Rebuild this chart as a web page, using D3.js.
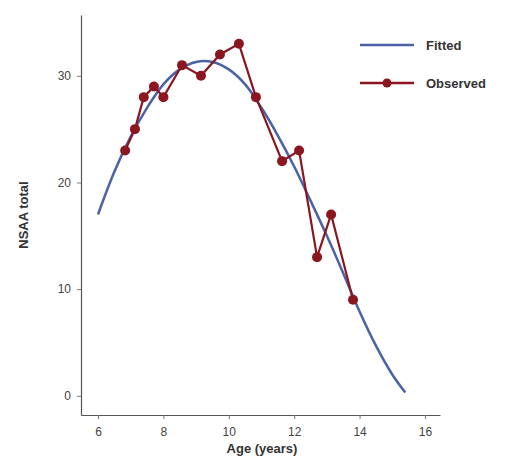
<!DOCTYPE html>
<html><head><meta charset="utf-8">
<script src="https://cdn.jsdelivr.net/npm/d3@7"></script>
<style>body{margin:0;background:#fff}svg{display:block}text{font-family:"Liberation Sans",Arial,sans-serif}</style>
</head><body>
<svg id="c" width="507" height="460"></svg>
<script>
const fittedAge = [6, 6.5, 7, 7.5, 8, 8.5, 9, 9.5, 10, 10.5, 11, 11.5, 12, 12.5, 13, 13.5, 14, 14.5, 15, 15.4];
const fittedNSAA = [17.0, 21.0, 24.3, 27.0, 29.2, 30.6, 31.3, 31.3, 30.6, 29.2, 27.0, 24.4, 21.5, 18.3, 15.0, 11.5, 7.9, 4.7, 2.0, 0.3];
const obsAge = [6.83, 7.13, 7.4, 7.71, 8.0, 8.57, 9.15, 9.73, 10.31, 10.83, 11.63, 12.15, 12.7, 13.13, 13.8];
const obsNSAA = [23, 25, 28, 29, 28, 31, 30, 32, 33, 28, 22, 23, 13, 17, 9];
const xTicks = [6, 8, 10, 12, 14, 16];
const yTicks = [0, 10, 20, 30];
const legendLabels = ["Fitted", "Observed"];

const blue = "#4a62a8", red = "#8a1620";
const svg = d3.select("#c");
const x = d3.scaleLinear().domain([5.48, 16.46]).range([81, 440]);
const y = d3.scaleLinear().domain([-1.8, 35.7]).range([415, 15]);

const xAxis = svg.append("g").attr("transform", "translate(0,415)")
  .call(d3.axisBottom(x).tickValues(xTicks).tickSize(4).tickPadding(8).tickSizeOuter(0));
const yAxis = svg.append("g").attr("transform", "translate(81,0)")
  .call(d3.axisLeft(y).tickValues(yTicks).tickSize(4).tickPadding(6).tickSizeOuter(0));
[xAxis, yAxis].forEach(a => {
  a.select(".domain").attr("stroke", "#555").attr("stroke-width", 1.2);
  a.selectAll(".tick line").attr("stroke", "#777");
  a.selectAll(".tick text").attr("fill", "#444").style("font-size", "12px");
});

svg.append("text").attr("x", 262).attr("y", 453).attr("text-anchor", "middle")
  .style("font-size", "13px").style("font-weight", "bold").attr("fill", "#333").text("Age (years)");
svg.append("text").attr("transform", "translate(28,215) rotate(-90)").attr("text-anchor", "middle")
  .style("font-size", "13px").style("font-weight", "bold").attr("fill", "#333").text("NSAA total");

const fit = fittedAge.map((a, i) => [a, fittedNSAA[i]]);
const obs = obsAge.map((a, i) => [a, obsNSAA[i]]);
const line = d3.line().x(d => x(d[0])).y(d => y(d[1]));

svg.append("path").datum(fit).attr("fill", "none").attr("stroke", blue).attr("stroke-width", 2.5)
  .attr("d", line.curve(d3.curveCatmullRom.alpha(0.5)));
svg.append("path").datum(obs).attr("fill", "none").attr("stroke", red).attr("stroke-width", 2.2)
  .attr("d", d3.line().x(d => x(d[0])).y(d => y(d[1]))(obs));
svg.append("g").selectAll("circle").data(obs).join("circle")
  .attr("cx", d => x(d[0])).attr("cy", d => y(d[1])).attr("r", 5).attr("fill", red);

const lg = svg.append("g");
lg.append("line").attr("x1", 360).attr("x2", 414).attr("y1", 45).attr("y2", 45).attr("stroke", blue).attr("stroke-width", 2.5);
lg.append("line").attr("x1", 360).attr("x2", 414).attr("y1", 83).attr("y2", 83).attr("stroke", red).attr("stroke-width", 2.5);
lg.append("circle").attr("cx", 387).attr("cy", 83).attr("r", 4.5).attr("fill", red);
legendLabels.forEach((t, i) => lg.append("text").attr("x", 426).attr("y", 45 + i * 38).attr("dy", "0.35em")
  .style("font-size", "13px").style("font-weight", "bold").attr("fill", "#333").text(t));
</script>
</body></html>
